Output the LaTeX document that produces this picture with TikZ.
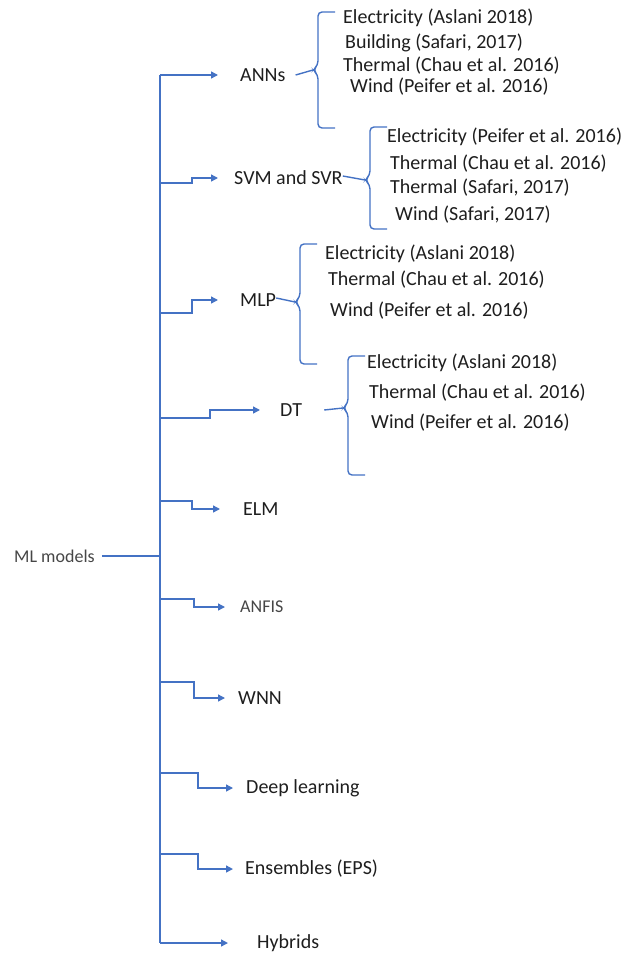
\documentclass[tikz,border=0pt]{standalone}
\usepackage{fontspec}
\setmainfont{Carlito}
\usetikzlibrary{arrows.meta}
\definecolor{mlblue}{RGB}{68,114,196}
\definecolor{mltext}{RGB}{30,30,30}
\definecolor{mlgray}{RGB}{70,70,70}

\begin{document}
\begin{tikzpicture}[x=1pt,y=-1pt,
  link/.style={mlblue, line width=1.4pt},
  arr/.style={link, -{Triangle[length=7pt,width=7pt]}},
  brace/.style={link, rounded corners=4pt},
  model/.style={anchor=west, inner sep=0pt, text=mltext, font=\fontsize{20}{24}\selectfont},
  light/.style={model, text=mlgray, font=\fontsize{18}{22}\selectfont},
  leaf/.style={model}]
\useasboundingbox (0,0) rectangle (622,953);
% Root and trunk
\node[light] (root) at (14,556) {ML models};
\coordinate (top) at (160,75);
\coordinate (bot) at (160,943);
\coordinate (mid) at (160,556);
\draw[link] (top) -- (bot);
\draw[link] ([xshift=7pt]root.east) -- (mid);
% Model branches: name/style/text/trunk y/step x/arrow y/tip x/text x
\foreach \name/\st/\txt/\ty/\sx/\ay/\ax/\tx in {
  ann/model/ANNs/75/160/75/218/240,
  svm/model/SVM and SVR/183/192/178/218/234,
  mlp/model/MLP/313/192/300/218/240,
  dt/model/DT/418/210/410/260/280,
  elm/model/ELM/501/192/509/220/243,
  anfis/light/ANFIS/599/194/607/225/240,
  wnn/model/WNN/682/194/698/225/238,
  deep/model/Deep learning/773/198/788/233/246,
  ens/model/Ensembles (EPS)/854/198/869/233/245,
  hyb/model/Hybrids/943/160/943/228/257} {
  \node[\st] (\name) at (\tx,\ay) {\txt};
  \coordinate (\name-in) at (160,\ty);
  \coordinate (\name-tip) at (\ax,\ay);
  \draw[arr] (\name-in) -- (\sx,\ty) -- (\sx,\ay) -- (\name-tip);
}
% Braces
\coordinate (ann-br) at (313,70);
\draw[link] ([xshift=10pt]ann.east) -- (ann-br);
\draw[brace] (335,12) -- (318,12) -- (318,65) -- (ann-br) -- (318,75) -- (318,128) -- (335,128);
\coordinate (svm-br) at (365,180);
\draw[link] ([yshift=2pt]svm.east) -- (svm-br);
\draw[brace] (387,127) -- (370,127) -- (370,175) -- (svm-br) -- (370,185) -- (370,229) -- (387,229);
\coordinate (mlp-br) at (295,302);
\draw[link] ([yshift=2pt]mlp.east) -- (mlp-br);
\draw[brace] (317,244) -- (300,244) -- (300,297) -- (mlp-br) -- (300,307) -- (300,364) -- (317,364);
\coordinate (dt-br) at (343,408);
\draw[link] ([xshift=22pt]dt.east) -- (dt-br);
\draw[brace] (365,356) -- (348,356) -- (348,403) -- (dt-br) -- (348,413) -- (348,475) -- (365,475);
% Leaves
\foreach \x/\y/\t [count=\i] in {343/18/{Electricity (Aslani 2018)},
  345/43/{Building (Safari, 2017)}, 343/66/{Thermal (Chau et al. 2016)},
  350/87/{Wind (Peifer et al. 2016)}} {
  \node[leaf] (ann-\i) at (\x,\y) {\t};
}
\foreach \x/\y/\t [count=\i] in {387/137/{Electricity (Peifer et al. 2016)},
  390/164/{Thermal (Chau et al. 2016)}, 390/188/{Thermal (Safari, 2017)},
  395/215/{Wind (Safari, 2017)}} {
  \node[leaf] (svm-\i) at (\x,\y) {\t};
}
\foreach \x/\y/\t [count=\i] in {325/254/{Electricity (Aslani 2018)},
  328/280/{Thermal (Chau et al. 2016)}, 330/311/{Wind (Peifer et al. 2016)}} {
  \node[leaf] (mlp-\i) at (\x,\y) {\t};
}
\foreach \x/\y/\t [count=\i] in {367/363/{Electricity (Aslani 2018)},
  369/393/{Thermal (Chau et al. 2016)}, 371/423/{Wind (Peifer et al. 2016)}} {
  \node[leaf] (dt-\i) at (\x,\y) {\t};
}
\end{tikzpicture}
\end{document}
